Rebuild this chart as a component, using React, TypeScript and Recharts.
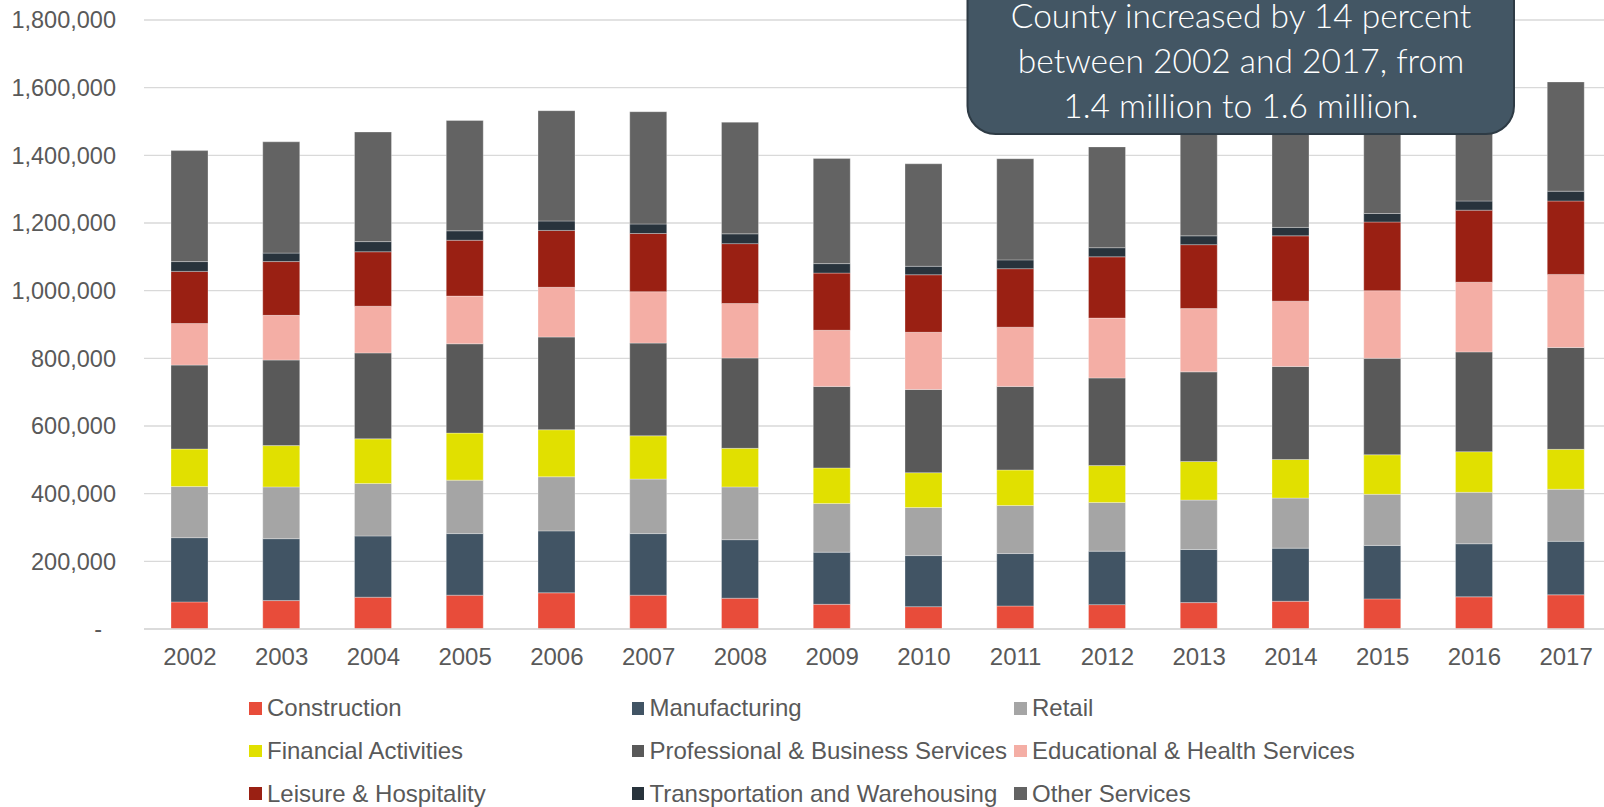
import React from 'react';
import { BarChart, Bar, XAxis, YAxis, CartesianGrid, Legend } from 'recharts';

const YEARS = ['2002', '2003', '2004', '2005', '2006', '2007', '2008', '2009', '2010', '2011', '2012', '2013', '2014', '2015', '2016', '2017'];

const CONSTRUCTION = [80000, 84000, 94000, 100000, 107000, 100000, 91000, 73000, 66000, 68000, 72000, 78000, 82000, 89000, 95000, 101000];
const MANUFACTURING = [190000, 183000, 181000, 182000, 183000, 182000, 173000, 154000, 151000, 155000, 158000, 157000, 157000, 158000, 157000, 158000];
const RETAIL = [151000, 153000, 155000, 158000, 160000, 161000, 156000, 144000, 142000, 142000, 144000, 146000, 148000, 151000, 152000, 154000];
const FINANCIAL = [111000, 122000, 132000, 139000, 139000, 128000, 114000, 105000, 103000, 105000, 109000, 114000, 114000, 117000, 120000, 118000];
const PROFESSIONAL = [248000, 253000, 254000, 264000, 274000, 274000, 267000, 241000, 246000, 247000, 259000, 265000, 275000, 285000, 295000, 301000];
const EDUCATIONAL = [123000, 132000, 138000, 141000, 147000, 152000, 161000, 166000, 169000, 175000, 177000, 187000, 193000, 200000, 206000, 216000];
const LEISURE = [154000, 159000, 161000, 165000, 168000, 172000, 177000, 169000, 170000, 173000, 181000, 189000, 193000, 203000, 213000, 217000];
const TRANSPORTATION = [29000, 25000, 30000, 28000, 28000, 28000, 29000, 28000, 25000, 26000, 27000, 26000, 25000, 25000, 27000, 29000];
const OTHER = [328000, 329000, 324000, 326000, 326000, 332000, 330000, 311000, 303000, 299000, 298000, 305000, 312000, 318000, 320000, 323000];

const Y_TICKS = [0, 200000, 400000, 600000, 800000, 1000000, 1200000, 1400000, 1600000, 1800000];

const CALLOUT_LINES = ['County increased by 14 percent', 'between 2002 and 2017, from', '1.4 million to 1.6 million.'];

const SERIES = [
  { key: 'construction', name: 'Construction', color: '#E84C3A', values: CONSTRUCTION },
  { key: 'manufacturing', name: 'Manufacturing', color: '#415464', values: MANUFACTURING },
  { key: 'retail', name: 'Retail', color: '#A5A5A5', values: RETAIL },
  { key: 'financial', name: 'Financial Activities', color: '#E1E000', values: FINANCIAL },
  { key: 'professional', name: 'Professional & Business Services', color: '#595959', values: PROFESSIONAL },
  { key: 'educational', name: 'Educational & Health Services', color: '#F4AEA5', values: EDUCATIONAL },
  { key: 'leisure', name: 'Leisure & Hospitality', color: '#9A2013', values: LEISURE },
  { key: 'transportation', name: 'Transportation and Warehousing', color: '#28333C', values: TRANSPORTATION },
  { key: 'other', name: 'Other Services', color: '#636363', values: OTHER },
];

const SERIES_ORDER = SERIES.map((s) => s.name);

const data = YEARS.map((year, i) => {
  const row: Record<string, any> = { year };
  SERIES.forEach((s) => {
    row[s.key] = s.values[i];
  });
  return row;
});

const FONT = '"Liberation Sans", Arial, Helvetica, sans-serif';
const TEXT = '#595959';

const YTick = (props: any) => {
  const { x, y, payload } = props;
  const v = payload.value as number;
  const label = v === 0 ? '-' : v.toLocaleString('en-US');
  return (
    <text x={v === 0 ? x - 14 : x} y={y} dy="0.355em" textAnchor="end" fill={TEXT} fontSize={23.5} fontFamily={FONT}>
      {label}
    </text>
  );
};

const renderLegend = (props: any) => {
  const payload = [...(props.payload || [])].sort(
    (a: any, b: any) => SERIES_ORDER.indexOf(a.value) - SERIES_ORDER.indexOf(b.value)
  );
  return (
    <div style={{ display: 'grid', gridTemplateColumns: '382.5px 382.5px 382.5px' }}>
      {payload.map((entry: any) => (
        <div key={entry.value} style={{ display: 'flex', alignItems: 'center', height: 42.6 }}>
          <span style={{ display: 'inline-block', width: 12.7, height: 12.7, background: entry.color, marginRight: 5, flex: 'none' }} />
          <span style={{ fontSize: 24, fontFamily: FONT, color: TEXT, whiteSpace: 'nowrap' }}>{entry.value}</span>
        </div>
      ))}
    </div>
  );
};

export default function App() {
  return (
    <div style={{ position: 'fixed', left: 0, top: 0, width: 1604, height: 807, overflow: 'hidden', background: '#ffffff' }}>
      <BarChart width={1640} height={807} data={data} margin={{ top: 20, right: 28, bottom: 138, left: 0 }} barSize={37}>
        <CartesianGrid vertical={false} stroke="#D9D9D9" strokeWidth={1.3} />
        <XAxis
          dataKey="year"
          height={40}
          tickLine={false}
          tickMargin={13}
          axisLine={{ stroke: '#D9D9D9', strokeWidth: 1.3 }}
          tick={{ fill: TEXT, fontSize: 24, fontFamily: FONT }}
          interval={0}
        />
        <YAxis
          width={144}
          domain={[0, 1800000]}
          ticks={Y_TICKS}
          tickLine={false}
          axisLine={false}
          tickMargin={22}
          tick={<YTick />}
          interval={0}
        />
        <Legend
          layout="horizontal"
          verticalAlign="middle"
          align="center"
          content={renderLegend}
          wrapperStyle={{ top: 687.2, left: 249.3, width: 1200, height: 128 }}
        />
        {SERIES.map((s) => (
          <Bar
            key={s.key}
            dataKey={s.key}
            name={s.name}
            stackId="jobs"
            fill={s.color}
            stroke="#ffffff"
            strokeOpacity={0.3}
            strokeWidth={1}
            isAnimationActive={false}
          />
        ))}
      </BarChart>
      <svg width={1604} height={807} style={{ position: 'absolute', left: 0, top: 0, pointerEvents: 'none' }}>
        <rect x={967.5} y={-40} width={546.5} height={174} rx={28} ry={28} fill="#435664" stroke="#2E3B45" strokeWidth={2} />
        {CALLOUT_LINES.map((line, i) => (
          <text
            key={line}
            x={1241}
            y={28.3 + i * 45}
            textAnchor="middle"
            fill="#ffffff"
            fontSize={33.5}
            fontWeight={300}
            fontFamily='"Lato Light", Lato, "Open Sans", sans-serif'
          >
            {line}
          </text>
        ))}
      </svg>
    </div>
  );
}
